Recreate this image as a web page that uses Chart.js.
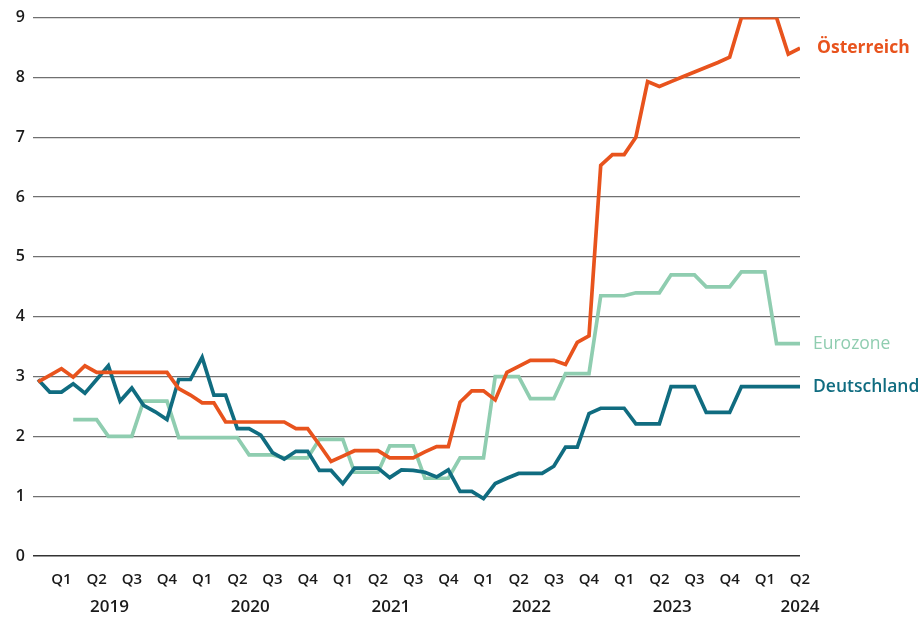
<!DOCTYPE html>
<html lang="de">
<head>
    <meta charset="UTF-8">
    <title>Zinsen</title>
    <script src="https://cdn.jsdelivr.net/npm/chart.js"></script>
    <style>
        body { margin: 0; background: #fff; }
        .wrap { position: relative; width: 921px; height: 618px; }
    </style>
</head>
<body>
    <div class="wrap"><canvas id="myChart"></canvas></div>

    <script>
        // monthly, Jan 2019 - Jun 2024
        const months = [
            '2019-01','2019-02','2019-03','2019-04','2019-05','2019-06','2019-07','2019-08','2019-09','2019-10','2019-11','2019-12',
            '2020-01','2020-02','2020-03','2020-04','2020-05','2020-06','2020-07','2020-08','2020-09','2020-10','2020-11','2020-12',
            '2021-01','2021-02','2021-03','2021-04','2021-05','2021-06','2021-07','2021-08','2021-09','2021-10','2021-11','2021-12',
            '2022-01','2022-02','2022-03','2022-04','2022-05','2022-06','2022-07','2022-08','2022-09','2022-10','2022-11','2022-12',
            '2023-01','2023-02','2023-03','2023-04','2023-05','2023-06','2023-07','2023-08','2023-09','2023-10','2023-11','2023-12',
            '2024-01','2024-02','2024-03','2024-04','2024-05','2024-06'
        ];

        const oesterreich = [
            2.91, 3.02, 3.13, 2.99, 3.18, 3.07, 3.07, 3.07, 3.07, 3.07, 3.07, 3.07,
            2.80, 2.69, 2.56, 2.56, 2.24, 2.24, 2.24, 2.24, 2.24, 2.24, 2.13, 2.13,
            1.86, 1.58, 1.67, 1.76, 1.76, 1.76, 1.64, 1.64, 1.64, 1.74, 1.83, 1.83,
            2.57, 2.76, 2.76, 2.61, 3.07, 3.17, 3.27, 3.27, 3.27, 3.20, 3.57, 3.68,
            6.53, 6.71, 6.71, 7.00, 7.93, 7.85, 7.93, 8.01, 8.09, 8.17, 8.25, 8.34,
            9.00, 9.00, 9.00, 9.00, 8.39, 8.49
        ];

        const deutschland = [
            2.95, 2.74, 2.74, 2.88, 2.72, 2.95, 3.18, 2.59, 2.81, 2.52, 2.41, 2.28,
            2.95, 2.95, 3.32, 2.69, 2.69, 2.13, 2.13, 2.02, 1.73, 1.62, 1.75, 1.75,
            1.43, 1.43, 1.21, 1.47, 1.47, 1.47, 1.31, 1.44, 1.43, 1.40, 1.32, 1.44,
            1.08, 1.08, 0.96, 1.21, 1.30, 1.38, 1.38, 1.38, 1.50, 1.82, 1.82, 2.38,
            2.47, 2.47, 2.47, 2.21, 2.21, 2.21, 2.83, 2.83, 2.83, 2.40, 2.40, 2.40,
            2.83, 2.83, 2.83, 2.83, 2.83, 2.83
        ];

        const eurozone = [
            null, null, null, 2.28, 2.28, 2.28, 2.00, 2.00, 2.00, 2.59, 2.59, 2.59,
            1.98, 1.98, 1.98, 1.98, 1.98, 1.98, 1.69, 1.69, 1.69, 1.64, 1.64, 1.64,
            1.95, 1.95, 1.95, 1.40, 1.40, 1.40, 1.84, 1.84, 1.84, 1.30, 1.30, 1.30,
            1.64, 1.64, 1.64, 3.00, 3.00, 3.00, 2.63, 2.63, 2.63, 3.05, 3.05, 3.05,
            4.35, 4.35, 4.35, 4.40, 4.40, 4.40, 4.70, 4.70, 4.70, 4.50, 4.50, 4.50,
            4.75, 4.75, 4.75, 3.55, 3.55, 3.55
        ];

        const quarterLabels = ['Q1', 'Q2', 'Q3', 'Q4'];
        const yearLabels = ['2019', '2020', '2021', '2022', '2023', '2024'];
        const yTicks = [0, 1, 2, 3, 4, 5, 6, 7, 8, 9];

        const seriesNames = ['Österreich', 'Deutschland', 'Eurozone'];

        const orange = '#e8531d';
        const teal = '#106c80';
        const green = '#8fcdb0';
        const font = '"Open Sans", Lato, sans-serif';

        // quarter ticks sit on the last month of each quarter
        const quarterTicks = [];
        months.forEach((m, i) => {
            const mm = parseInt(m.slice(5), 10);
            if (mm % 3 === 0) quarterTicks.push({ value: i, label: quarterLabels[mm / 3 - 1] });
        });
        // year labels mid-year, last one under its last quarter
        const yearTicks = yearLabels.map((y, k) => {
            const idx = months.indexOf(y + '-07');
            return { value: idx >= 0 ? idx + 0.1 : months.length - 1, label: y };
        });

        function toPoints(arr) {
            return arr.map((v, i) => ({ x: i, y: v }));
        }

        // names at the end of each line
        const endLabels = {
            id: 'endLabels',
            afterDatasetsDraw(chart) {
                const ctx = chart.ctx;
                const styles = [
                    { weight: 'bold', dx: 17 },
                    { weight: '600', dx: 13 },
                    { weight: '500', dx: 13 }
                ];
                chart.data.datasets.forEach((ds, i) => {
                    const pts = chart.getDatasetMeta(i).data;
                    const last = pts[pts.length - 1];
                    ctx.save();
                    ctx.font = styles[i].weight + ' 17.5px ' + font;
                    ctx.fillStyle = ds.borderColor;
                    ctx.textBaseline = 'middle';
                    ctx.textAlign = 'left';
                    ctx.fillText(ds.label, chart.chartArea.right + styles[i].dx, last.y);
                    ctx.restore();
                });
            }
        };

        const ctx = document.getElementById('myChart').getContext('2d');
        const myChart = new Chart(ctx, {
            type: 'line',
            data: {
                datasets: [
                    { label: seriesNames[0], data: toPoints(oesterreich), borderColor: orange, order: 0 },
                    { label: seriesNames[1], data: toPoints(deutschland), borderColor: teal, order: 1 },
                    { label: seriesNames[2], data: toPoints(eurozone), borderColor: green, order: 2 }
                ]
            },
            options: {
                responsive: true,
                maintainAspectRatio: false,
                animation: false,
                layout: { padding: { top: 11, right: 121, left: 0, bottom: 0 } },
                elements: {
                    line: { borderWidth: 3.7, tension: 0, borderJoinStyle: 'miter', borderCapStyle: 'butt' },
                    point: { radius: 0 }
                },
                plugins: {
                    legend: { display: false },
                    tooltip: { enabled: false }
                },
                scales: {
                    x: {
                        type: 'linear',
                        position: 'bottom',
                        weight: 0,
                        min: -0.43,
                        max: months.length - 1,
                        grid: { display: false, drawTicks: false },
                        border: { display: false },
                        afterBuildTicks(scale) { scale.ticks = quarterTicks.map(t => ({ value: t.value })); },
                        afterFit(scale) { scale.height = 34; },
                        ticks: {
                            autoSkip: false,
                            maxRotation: 0,
                            padding: 15,
                            color: '#1a1a1a',
                            font: { family: font, size: 15, weight: '600' },
                            callback: (v, i) => quarterTicks[i].label
                        }
                    },
                    years: {
                        type: 'linear',
                        position: 'bottom',
                        weight: 1,
                        min: -0.43,
                        max: months.length - 1,
                        grid: { display: false, drawTicks: false },
                        border: { display: false },
                        afterBuildTicks(scale) { scale.ticks = yearTicks.map(t => ({ value: t.value })); },
                        afterFit(scale) { scale.height = 28; },
                        ticks: {
                            autoSkip: false,
                            maxRotation: 0,
                            padding: 7,
                            color: '#1a1a1a',
                            font: { family: font, size: 17, weight: '600' },
                            callback: (v, i) => yearTicks[i].label
                        }
                    },
                    y: {
                        min: 0,
                        max: 9,
                        afterBuildTicks(scale) { scale.ticks = yTicks.map(v => ({ value: v })); },
                        afterFit(scale) { scale.width = 33; },
                        grid: {
                            drawTicks: false,
                            color: c => c.tick && c.tick.value === 0 ? '#333' : '#707070',
                            lineWidth: c => c.tick && c.tick.value === 0 ? 1.6 : 1.2
                        },
                        border: { display: false },
                        ticks: {
                            padding: 8,
                            color: '#1a1a1a',
                            font: { family: font, size: 16, weight: '600' }
                        }
                    }
                }
            },
            plugins: [endLabels]
        });
    </script>
</body>
</html>
